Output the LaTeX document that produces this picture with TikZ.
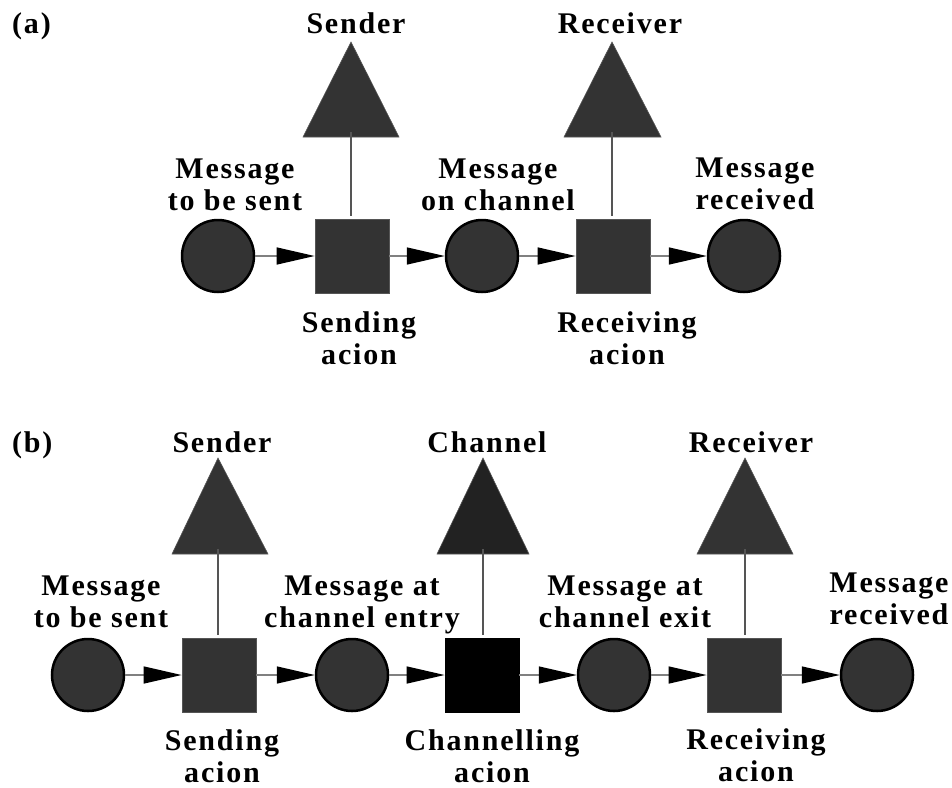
\documentclass[tikz,border=0pt]{standalone}
\usepackage{fontspec}
\newfontfamily\lblfont{Liberation Serif Bold}[LetterSpace=6]
\usetikzlibrary{arrows.meta}
\definecolor{fillgray}{HTML}{333333}
\definecolor{chgray}{HTML}{222222}
\definecolor{edgegray}{HTML}{555555}
\definecolor{linegray}{HTML}{808080}
\tikzset{
  place/.style={circle, draw=black, line width=2.5pt, fill=fillgray, minimum size=72pt, inner sep=0pt},
  trans/.style={rectangle, draw=edgegray, line width=0.8pt, fill=fillgray, minimum size=74pt, inner sep=0pt},
  chan/.style={trans, fill=black, draw=black},
  agent/.style={draw=edgegray, line width=0.6pt, fill=fillgray},
  chagent/.style={agent, fill=chgray},
  flow/.style={draw=linegray, line width=1.5pt, -{Triangle[length=38pt,width=17pt,black]}},
  link/.style={draw=edgegray, line width=1.2pt, shorten >=3pt},
  lbl/.style={font=\lblfont\fontsize{30}{32}\selectfont, align=center, anchor=base, inner sep=0pt},
}
\begin{document}
\begin{tikzpicture}[x=1pt,y=-1pt]
\useasboundingbox (0,0) rectangle (952,787);
% ---------------- (a) ----------------
\node[lbl, anchor=base west] (la) at (12,33) {(a)};
\node[place] (a1) at (218,256) {};
\node[trans] (a2) at (352,256) {};
\node[place] (a3) at (482,256) {};
\node[trans] (a4) at (613,256) {};
\node[place] (a5) at (744,256) {};
\draw[flow] (a1) -- (a2);
\draw[flow] (a2) -- (a3);
\draw[flow] (a3) -- (a4);
\draw[flow] (a4) -- (a5);
% agents
\draw[agent] (351,42) -- (303,137) -- (399,137) -- cycle;
\coordinate (sa) at (351,132);
\draw[agent] (612,42) -- (564,137) -- (661,137) -- cycle;
\coordinate (ra) at (612,132);
\draw[link] (sa) -- (sa |- a2.north);
\draw[link] (ra) -- (ra |- a4.north);
\node[lbl] (tsa) at (356,33) {Sender};
\node[lbl] (tra) at (620,33) {Receiver};
\node[lbl] (ta1) at (235,210) {Message\\to be sent};
\node[lbl] (ta3) at (498,210) {Message\\on channel};
\node[lbl] (ta5) at (755,209) {Message\\received};
\node[lbl] (ta2) at (359,364) {Sending\\acion};
\node[lbl] (ta4) at (627,364) {Receiving\\acion};
% ---------------- (b) ----------------
\node[lbl, anchor=base west] (lb) at (12,452) {(b)};
\node[place] (b1) at (88,675) {};
\node[trans] (b2) at (219,675) {};
\node[place] (b3) at (352,675) {};
\node[chan]  (b4) at (482,675) {};
\node[place] (b5) at (614,675) {};
\node[trans] (b6) at (744,675) {};
\node[place] (b7) at (877,675) {};
\draw[flow] (b1) -- (b2);
\draw[flow] (b2) -- (b3);
\draw[flow] (b3) -- (b4);
\draw[flow] (b4) -- (b5);
\draw[flow] (b5) -- (b6);
\draw[flow] (b6) -- (b7);
\draw[agent] (218,458) -- (172,554) -- (268,554) -- cycle;
\coordinate (sb) at (218,549);
\draw[chagent] (483,458) -- (437,554) -- (529,554) -- cycle;
\coordinate (cb) at (483,549);
\draw[agent] (745,458) -- (697,554) -- (793,554) -- cycle;
\coordinate (rb) at (745,549);
\draw[link] (sb) -- (sb |- b2.north);
\draw[link] (cb) -- (cb |- b4.north);
\draw[link] (rb) -- (rb |- b6.north);
\node[lbl] (tsb) at (222,452) {Sender};
\node[lbl] (tcb) at (487,452) {Channel};
\node[lbl] (trb) at (751,452) {Receiver};
\node[lbl] (tb1) at (101,627) {Message\\to be sent};
\node[lbl] (tb3) at (362,627) {Message at\\channel entry};
\node[lbl] (tb5) at (625,627) {Message at\\channel exit};
\node[lbl] (tb7) at (889,624) {Message\\received};
\node[lbl] (tb2) at (222,782) {Sending\\acion};
\node[lbl] (tb4) at (492,782) {Channelling\\acion};
\node[lbl] (tb6) at (756,781) {Receiving\\acion};
\end{tikzpicture}
\end{document}
